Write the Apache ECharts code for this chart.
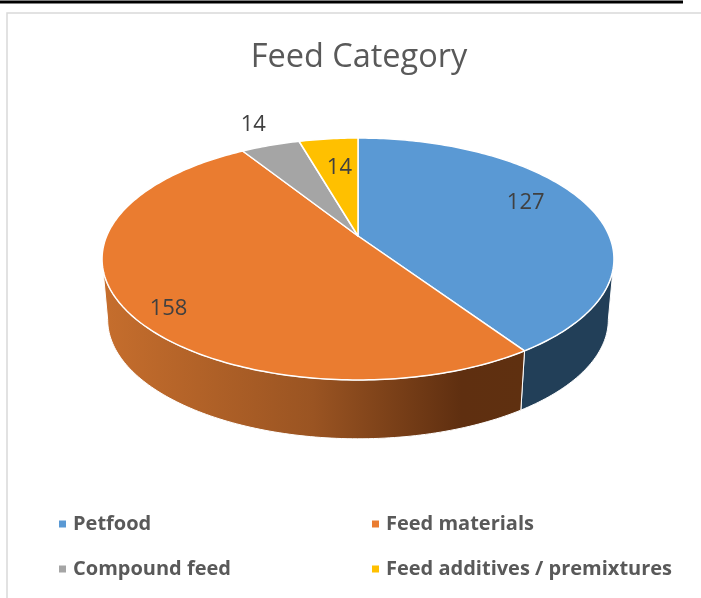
<!DOCTYPE html>
<html>
<head>
<meta charset="utf-8">
<style>
  html, body { margin: 0; padding: 0; background: #fff; }
  #main { width: 701px; height: 598px; }
</style>
<script src="https://cdn.jsdelivr.net/npm/echarts@6/dist/echarts.min.js"></script>
</head>
<body>
<div id="main"></div>
<script>
const categories = ['Petfood', 'Feed materials', 'Compound feed', 'Feed additives / premixtures'];
const values = [127, 158, 14, 14];
const colors = ['#5A99D4', '#EA7C30', '#A5A5A5', '#FFC000'];

// tilted disc, seen in perspective
const centerX = 358;
const topY = 236, baseY = 297;
const radiusX = 251.3, radiusY = 116.6;
const baseScaleX = 0.978, baseScaleY = 0.985;
const tilt = 0.19;

// where each label sits on the disc (share of radius, degrees off the slice middle)
const labelRadius = [0.77, 0.87, 1.28, 0.68];
const labelNudge = [-6.5, -6, 0.7, 1];

const total = values.reduce((a, b) => a + b, 0);
const startAngles = [];
values.reduce((sum, v, i) => {
  startAngles[i] = sum / total * 360;
  return sum + v;
}, 0);

// the rim's outline turns back at these angles, the wall is hidden beyond them
const wallEdge = Math.acos(tilt) * 180 / Math.PI;
const wallFrom = 180 - wallEdge, wallTo = 180 + wallEdge;

function project(deg, r, base) {
  const a = deg * Math.PI / 180;
  const u = r * Math.sin(a), v = -r * Math.cos(a);
  const d = 1 - tilt * v;
  return [
    centerX + radiusX * (base ? baseScaleX : 1) * u / d,
    (base ? baseY : topY) + radiusY * (base ? baseScaleY : 1) * v / d
  ];
}

function rim(from, to, base) {
  const pts = [];
  const n = Math.max(2, Math.ceil(Math.abs(to - from)));
  for (let k = 0; k <= n; k++) pts.push(project(from + (to - from) * k / n, 1, base));
  return pts;
}

function wallFill(i) {
  if (i === 1) {
    return new echarts.graphic.LinearGradient(0, 0, 1, 0, [
      { offset: 0, color: '#C66E2D' },
      { offset: 0.5, color: '#9A5422' },
      { offset: 0.85, color: '#5F2F10' },
      { offset: 1, color: '#5F3010' }
    ]);
  }
  return '#223F58';
}

function drawSlice(i) {
  const start = startAngles[i];
  const end = start + values[i] / total * 360;
  const children = [];

  // only the near part of the side wall can be seen
  const from = Math.max(start, wallFrom), to = Math.min(end, wallTo);
  if (to > from) {
    children.push({
      type: 'polygon',
      z2: 1,
      shape: { points: rim(from, to, false).concat(rim(to, from, true)) },
      style: { fill: wallFill(i), stroke: '#fff', lineWidth: 1 }
    });
  }
  children.push({
    type: 'polygon',
    z2: 2,
    shape: { points: [project(0, 0, false)].concat(rim(start, end, false)) },
    style: { fill: colors[i], stroke: '#fff', lineWidth: 1.5, lineJoin: 'round' }
  });
  const spot = project((start + end) / 2 + labelNudge[i], labelRadius[i], false);
  children.push({
    type: 'text',
    z2: 3,
    style: {
      x: spot[0], y: spot[1] + 1,
      text: String(values[i]),
      align: 'center', verticalAlign: 'middle',
      fill: '#404040',
      font: '22px "Open Sans"'
    }
  });
  return { type: 'group', children: children };
}

const legendText = { color: '#595959', fontFamily: 'Open Sans', fontWeight: 'bold', fontSize: 20, padding: [0, 0, 0, 2] };

const chart = echarts.init(document.getElementById('main'));
chart.setOption({
  backgroundColor: '#fff',
  animation: false,
  title: {
    text: 'Feed Category',
    left: 354,
    textAlign: 'center',
    top: 36,
    textStyle: { color: '#595959', fontFamily: 'Open Sans', fontWeight: 'normal', fontSize: 32.5 }
  },
  legend: [
    {
      data: [categories[0], categories[2]],
      orient: 'vertical', left: 54, top: 509,
      icon: 'rect', itemWidth: 7, itemHeight: 7, itemGap: 25,
      textStyle: legendText
    },
    {
      data: [categories[1], categories[3]],
      orient: 'vertical', left: 367, top: 509,
      icon: 'rect', itemWidth: 7, itemHeight: 7, itemGap: 25,
      textStyle: legendText
    }
  ],
  graphic: [
    { type: 'line', shape: { x1: 0, y1: 2, x2: 683, y2: 2 }, style: { stroke: '#000', lineWidth: 3 } },
    { type: 'polyline', shape: { points: [[7, 598], [7, 13], [701, 13]] }, style: { stroke: '#D9D9D9', lineWidth: 1.5, fill: 'none' } }
  ],
  series: categories.map((name, i) => ({
    type: 'custom',
    name: name,
    coordinateSystem: 'none',
    silent: true,
    itemStyle: { color: colors[i] },
    data: [values[i]],
    renderItem: () => drawSlice(i)
  }))
});
</script>
</body>
</html>
